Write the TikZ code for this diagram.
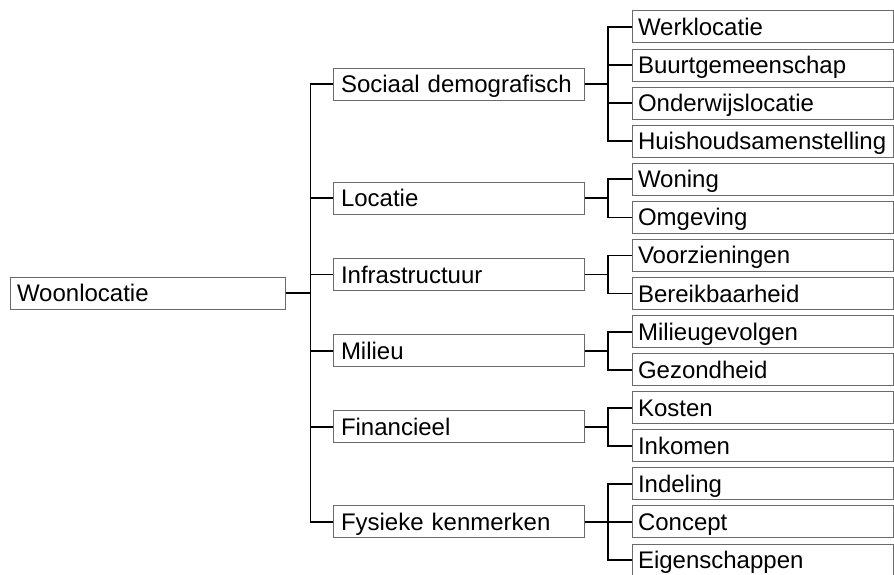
\documentclass[tikz,border=0pt]{standalone}
\usepackage{fontspec}
\setmainfont{Liberation Sans}
\definecolor{boxgray}{HTML}{6A6A6A}
\begin{document}
\begin{tikzpicture}[x=1pt,y=-1pt,
  box/.style={draw=boxgray, line width=1pt, rectangle, inner ysep=0pt,
    minimum height=32pt, text height=17pt, text depth=0pt, align=left,
    font=\fontsize{24}{28}\selectfont},
  rootbox/.style={box, inner xsep=7pt, text width=261pt},
  lonebox/.style={box, inner xsep=8pt, text width=235pt},
  ltwobox/.style={box, inner xsep=6pt, text width=249pt},
  conn/.style={line width=1.8pt, black, line join=miter}]
\useasboundingbox (0,0) rectangle (894,575);

\node[rootbox] (root) at (147.5,293) {Woonlocatie};

\node[lonebox] (sd) at (458.5,84.1) {Sociaal demografisch};
\node[lonebox] (lo) at (458.5,198.3) {Locatie};
\node[lonebox] (in) at (458.5,274.5) {Infrastructuur};
\node[lonebox] (mi) at (458.5,350.6) {Milieu};
\node[lonebox] (fi) at (458.5,426.7) {Financieel};
\node[lonebox] (fy) at (458.5,521.9) {Fysieke kenmerken};

\node[ltwobox] (a1) at (762.5,27.0) {Werklocatie};
\node[ltwobox] (a2) at (762.5,65.1) {Buurtgemeenschap};
\node[ltwobox] (a3) at (762.5,103.1) {Onderwijslocatie};
\node[ltwobox] (a4) at (762.5,141.2) {Huishoudsamenstelling};
\node[ltwobox] (b1) at (762.5,179.3) {Woning};
\node[ltwobox] (b2) at (762.5,217.4) {Omgeving};
\node[ltwobox] (c1) at (762.5,255.4) {Voorzieningen};
\node[ltwobox] (c2) at (762.5,293.5) {Bereikbaarheid};
\node[ltwobox] (d1) at (762.5,331.6) {Milieugevolgen};
\node[ltwobox] (d2) at (762.5,369.6) {Gezondheid};
\node[ltwobox] (e1) at (762.5,407.7) {Kosten};
\node[ltwobox] (e2) at (762.5,445.8) {Inkomen};
\node[ltwobox] (f1) at (762.5,483.8) {Indeling};
\node[ltwobox] (f2) at (762.5,521.9) {Concept};
\node[ltwobox] (f3) at (762.5,560.0) {Eigenschappen};

\coordinate (t) at (310.5,0);
\coordinate (b) at (608,0);

% trunk
\draw[conn] (root.east) -- (t |- root.east);
\draw[conn] (sd.west) -- (t |- sd.west) -- (t |- fy.west) -- (fy.west);
\foreach \n in {lo,in,mi,fi} \draw[conn] (t |- \n.west) -- (\n.west);

% group sd
\draw[conn] (sd.east) -- (b |- sd.east);
\draw[conn] (a1.west) -- (b |- a1.west) -- (b |- a4.west) -- (a4.west);
\draw[conn] (b |- a2.west) -- (a2.west);
\draw[conn] (b |- a3.west) -- (a3.west);

% two-child groups
\foreach \p/\u/\v in {lo/b1/b2, in/c1/c2, mi/d1/d2, fi/e1/e2} {
  \draw[conn] (\p.east) -- (b |- \p.east);
  \draw[conn] (\u.west) -- (b |- \u.west) -- (b |- \v.west) -- (\v.west);
}

% group fy
\draw[conn] (fy.east) -- (b |- fy.east);
\draw[conn] (f1.west) -- (b |- f1.west) -- (b |- f3.west) -- (f3.west);
\draw[conn] (b |- f2.west) -- (f2.west);
\end{tikzpicture}
\end{document}
